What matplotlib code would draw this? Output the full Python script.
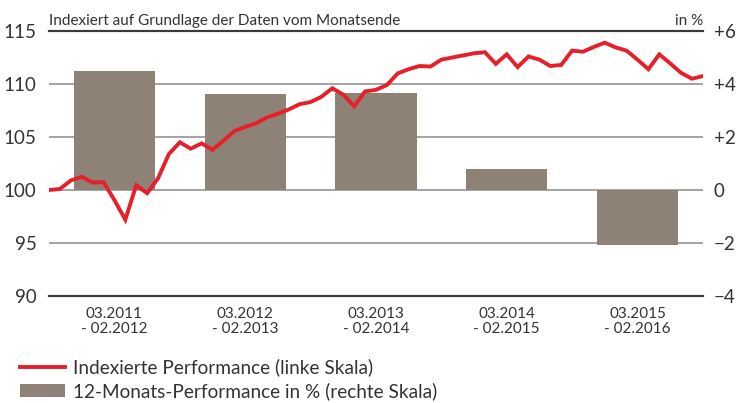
import numpy as np
import matplotlib
matplotlib.use('Agg')
import matplotlib.pyplot as plt
from matplotlib.lines import Line2D
from matplotlib.patches import Patch

plt.rcParams['font.family'] = ['Lato', 'DejaVu Sans']

# indexed performance, month-end values 02.2011 .. 02.2016 (left scale)
index_perf = [100.0, 100.1, 100.9, 101.25, 100.7, 100.75, 99.05, 97.2, 100.45, 99.7,
              101.1, 103.4, 104.5, 103.9, 104.4, 103.8, 104.65, 105.55, 105.95, 106.3,
              106.85, 107.2, 107.6, 108.1, 108.3, 108.8, 109.6, 109.0, 107.9, 109.3,
              109.45, 109.9, 111.0, 111.4, 111.7, 111.65, 112.3, 112.5, 112.7, 112.9,
              113.0, 111.9, 112.8, 111.6, 112.6, 112.3, 111.7, 111.8, 113.15, 113.05,
              113.5, 113.9, 113.45, 113.15, 112.3, 111.4, 112.8, 111.95, 111.05, 110.5,
              110.75]

# 12-month performance in % (right scale)
periods = ['03.2011\n- 02.2012', '03.2012\n- 02.2013', '03.2013\n- 02.2014',
           '03.2014\n- 02.2015', '03.2015\n- 02.2016']
perf_12m = [4.5, 3.62, 3.65, 0.79, -2.08]

left_ticks = [90, 95, 100, 105, 110, 115]
right_ticks = [-4, -2, 0, 2, 4, 6]
right_labels = ['\u22124', '\u22122', '0', '+2', '+4', '+6']

red = '#e5202a'
bar_col = '#8e8277'
grid_col = '#8a8a8a'
dark = '#3a3a3a'
txt = '#333333'

fig = plt.figure(figsize=(7.43, 4.03), dpi=100)
ax = fig.add_axes([0.066, 0.2655, 0.88, 0.6575])
ax2 = ax.twinx()

# bars on right scale, drawn underneath the line
months = np.arange(len(index_perf))
centers = [12 * i + 6 for i in range(len(perf_12m))]
ax2.bar(centers, perf_12m, width=7.45, color=bar_col, zorder=2)
ax2.set_ylim(-4, 6)
ax2.set_yticks(right_ticks)
ax2.set_yticklabels(right_labels)
ax2.grid(axis='y', color=grid_col, lw=1.1, zorder=0)
ax2.set_axisbelow(True)

ax.set_zorder(ax2.get_zorder() + 1)
ax.patch.set_visible(False)
ax.plot(months, index_perf, color=red, lw=2.8, solid_joinstyle='miter', zorder=5)
ax.set_ylim(90, 115)
ax.set_yticks(left_ticks)
ax.set_xlim(0, 60)
ax2.set_xlim(0, 60)
ax.set_xticks(centers)
ax.set_xticklabels(periods, fontsize=11, color=txt, linespacing=1.05)

for a in (ax, ax2):
    for s in ['left', 'right']:
        a.spines[s].set_visible(False)
    a.spines['top'].set_color(dark)
    a.spines['bottom'].set_color(dark)
    a.spines['top'].set_linewidth(1.5)
    a.spines['bottom'].set_linewidth(1.5)
    a.tick_params(length=0, labelsize=13.5, colors=txt)
ax.tick_params(axis='y', pad=9)
ax2.tick_params(axis='y', pad=8)
ax.tick_params(axis='x', labelsize=11, pad=8)

ax.text(0, 1.012, 'Indexiert auf Grundlage der Daten vom Monatsende', transform=ax.transAxes,
        ha='left', va='bottom', fontsize=11, color=txt)
ax.text(1, 1.012, 'in %', transform=ax.transAxes, ha='right', va='bottom',
        fontsize=11, color=txt)

handles = [Line2D([], [], color=red, lw=2.8),
           Patch(facecolor=bar_col, edgecolor='none')]
fig.legend(handles, ['Indexierte Performance (linke Skala)',
                     '12-Monats-Performance in % (rechte Skala)'],
           loc='lower left', bbox_to_anchor=(0.004, -0.036), frameon=False,
           fontsize=13.7, handlelength=2.35, handleheight=0.65, handletextpad=0.45,
           labelspacing=0.33, labelcolor=txt)

fig.savefig('out.png', dpi=100)
